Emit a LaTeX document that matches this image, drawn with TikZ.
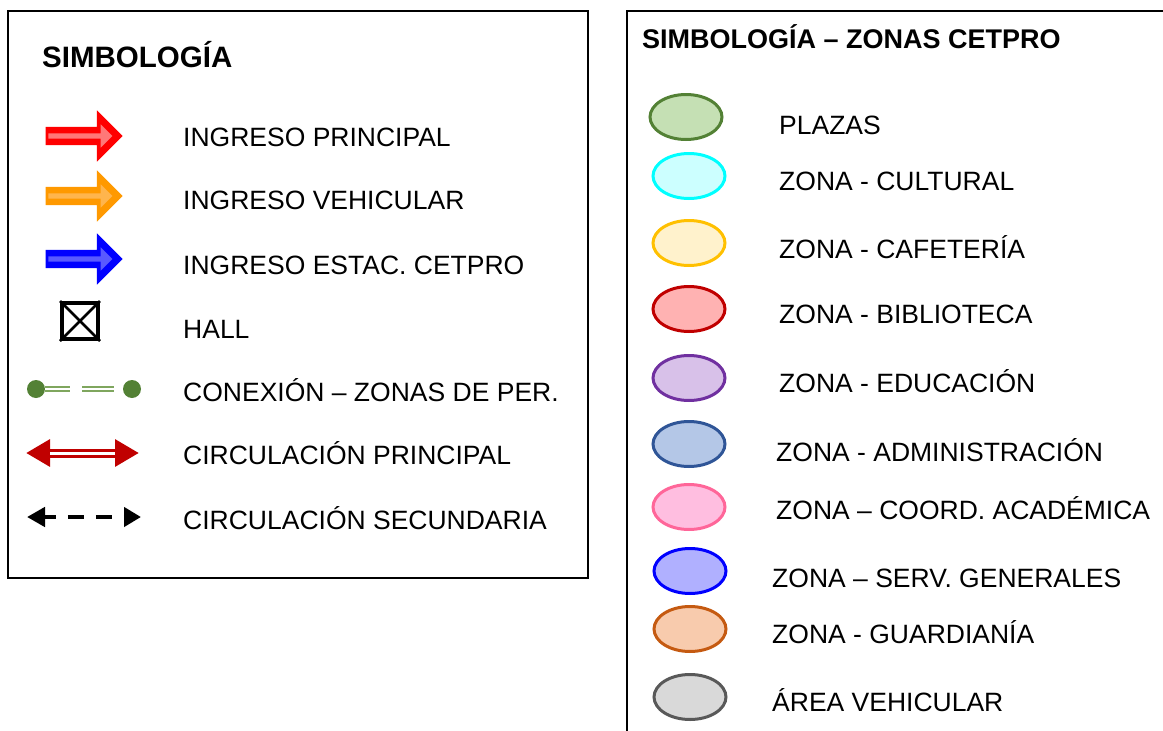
\documentclass[tikz,border=0pt]{standalone}
\usepackage{fontspec}
\setmainfont{Liberation Sans}
\usetikzlibrary{arrows.meta, positioning, shapes.geometric, shapes.arrows}

\definecolor{ingrojo}{HTML}{FF0000}
\definecolor{ingrojoc}{HTML}{FF7878}
\definecolor{ingnaranja}{HTML}{FF9900}
\definecolor{ingnaranjac}{HTML}{FFB54D}
\definecolor{ingazul}{HTML}{0000FF}
\definecolor{ingazulc}{HTML}{5959FF}
\definecolor{converde}{HTML}{538135}
\definecolor{converdec}{HTML}{7FA65E}
\definecolor{circrojo}{HTML}{C00000}

\begin{document}
\begin{tikzpicture}[x=1pt, y=-1pt,
      marco/.style={draw, line width=2.5pt},
      titulo/.style={anchor=base west, inner sep=0pt, font=\bfseries\fontsize{29.5}{34}\selectfont},
      titulob/.style={titulo, font=\bfseries\fontsize{27}{32}\selectfont},
      lbl/.style={anchor=base west, inner sep=0pt, font=\fontsize{26.5}{30}\selectfont},
      ingreso/.style={single arrow, single arrow head extend=16.5pt, inner sep=9pt,
                      minimum height=77pt, minimum width=1pt},
      ingresoin/.style={single arrow, single arrow head extend=9pt, inner sep=2.5pt,
                        minimum height=64pt, minimum width=1pt},
      zona/.style={ellipse, line width=3pt, minimum width=72pt, minimum height=45pt},
      punto/.style={circle, fill=converde, minimum size=18pt, inner sep=0pt}]
    \clip (0,0) rectangle (1163,731);
    % recuadros
    \draw[marco] (8,11) rectangle (588,578);
    \draw[marco] (627,11) rectangle (1190,760);
    \node[titulo]  (tit1) at (42,67) {SIMBOLOGÍA};
    \node[titulob] (tit2) at (642,48) {SIMBOLOGÍA – ZONAS CETPRO};

    % ingresos
    \node[ingreso, fill=ingrojo]       (ipri)  at (79.5,136) {};
    \node[ingresoin, fill=ingrojoc]          at (79,136) {};
    \node[ingreso, fill=ingnaranja]    (iveh)  at (79.5,196) {};
    \node[ingresoin, fill=ingnaranjac]       at (79,196) {};
    \node[ingreso, fill=ingazul]       (iest)  at (79.5,259) {};
    \node[ingresoin, fill=ingazulc]          at (79,259) {};
    \node[lbl] (tipri) at (183,146) {INGRESO PRINCIPAL};
    \node[lbl] (tiveh) at (183,209) {INGRESO VEHICULAR};
    \node[lbl] (tiest) at (183,274) {INGRESO ESTAC. CETPRO};

    % hall
    \node[draw, line width=4pt, minimum size=36pt, inner sep=0pt] (hall) at (80,321) {};
    \draw[line width=2.5pt] (hall.north west) -- (hall.south east);
    \draw[line width=2.5pt] (hall.north east) -- (hall.south west);
    \node[lbl] (thall) at (183,338) {HALL};

    % conexion
    \node[punto] (pa) at (36,389) {};
    \node[punto] (pb) at (132,389) {};
    \draw[converdec, double=white, line width=2pt, double distance=2pt,
          dash pattern=on 25pt off 12pt on 32pt off 12pt] (pa.east) -- (pb.west);
    \node[lbl] (tcon) at (183,401) {CONEXIÓN – ZONAS DE PER.};

    % circulacion principal
    \coordinate (cpa) at (26,453);
    \coordinate (cpb) at (139,453);
    \draw[circrojo, line width=9pt,
          {Triangle[length=24pt, width=26pt]}-{Triangle[length=24pt, width=26pt]}] (cpa) -- (cpb);
    \draw[white, line width=3pt, shorten <=24pt, shorten >=24pt] (cpa) -- (cpb);
    \node[lbl] (tcpri) at (183,464) {CIRCULACIÓN PRINCIPAL};

    % circulacion secundaria
    \coordinate (csa) at (27,517);
    \coordinate (csb) at (141,517);
    \draw[line width=4.5pt, dash pattern=on 12pt off 12pt on 16pt off 12pt on 16pt off 12pt,
          {Triangle[length=18pt, width=19pt]}-{Triangle[length=17pt, width=19pt]}] (csa) -- (csb);
    \node[lbl] (tcsec) at (183,529) {CIRCULACIÓN SECUNDARIA};

    % zonas
    \node[zona, fill={rgb,255:red,197;green,224;blue,180}, draw={rgb,255:red,83;green,129;blue,53}]   (zpla) at (686,117) {};
    \node[zona, fill={rgb,255:red,204;green,255;blue,255}, draw={rgb,255:red,0;green,255;blue,255}]   (zcul) at (689,176) {};
    \node[zona, fill={rgb,255:red,255;green,242;blue,204}, draw={rgb,255:red,255;green,192;blue,0}]   (zcaf) at (689,243) {};
    \node[zona, fill={rgb,255:red,255;green,178;blue,178}, draw={rgb,255:red,192;green,0;blue,0}]     (zbib) at (689,309) {};
    \node[zona, fill={rgb,255:red,216;green,193;blue,233}, draw={rgb,255:red,112;green,48;blue,160}]  (zedu) at (689,378) {};
    \node[zona, fill={rgb,255:red,180;green,199;blue,231}, draw={rgb,255:red,47;green,85;blue,151}]   (zadm) at (689,444) {};
    \node[zona, fill={rgb,255:red,255;green,190;blue,224}, draw={rgb,255:red,255;green,102;blue,153}] (zcoo) at (689,507) {};
    \node[zona, fill={rgb,255:red,176;green,176;blue,255}, draw={rgb,255:red,0;green,0;blue,255}]     (zser) at (690,571) {};
    \node[zona, fill={rgb,255:red,248;green,203;blue,173}, draw={rgb,255:red,197;green,90;blue,17}]   (zgua) at (690,629) {};
    \node[zona, fill={rgb,255:red,217;green,217;blue,217}, draw={rgb,255:red,89;green,89;blue,89}]    (zveh) at (690,697) {};
    \node[lbl] (tpla) at (779,134) {PLAZAS};
    \node[lbl] (tcul) at (779,190) {ZONA - CULTURAL};
    \node[lbl] (tcaf) at (779,258) {ZONA - CAFETERÍA};
    \node[lbl] (tbib) at (779,323) {ZONA - BIBLIOTECA};
    \node[lbl] (tedu) at (779,392) {ZONA - EDUCACIÓN};
    \node[lbl] (tadm) at (776,461) {ZONA - ADMINISTRACIÓN};
    \node[lbl] (tcoo) at (776,519) {ZONA – COORD. ACADÉMICA};
    \node[lbl] (tser) at (772,587) {ZONA – SERV. GENERALES};
    \node[lbl] (tgua) at (772,643) {ZONA - GUARDIANÍA};
    \node[lbl] (tveh) at (772,711) {ÁREA VEHICULAR};
  \end{tikzpicture}
\end{document}
